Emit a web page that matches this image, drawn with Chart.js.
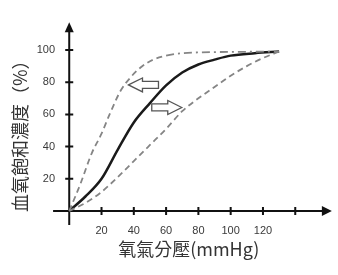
<!DOCTYPE html>
<html>
<head>
<meta charset="utf-8">
<script src="https://cdn.jsdelivr.net/npm/chart.js@4/dist/chart.umd.min.js"></script>
<style>
  html, body { margin: 0; padding: 0; background: #fff; }
  #wrap { width: 338px; height: 275px; }
</style>
</head>
<body>
<div id="wrap"><canvas id="chart"></canvas></div>
<script>
// 축 라벨
const xTitle = '氧氣分壓(mmHg)';
const yTitle = '血氧飽和濃度（%）';
const xTickLabels = [20, 40, 60, 80, 100, 120];
const xTickMarks = [20, 40, 60, 80, 100, 120, 140];
const yTickLabels = [20, 40, 60, 80, 100];

// 정상 곡선
const normalX = [0, 10, 20, 30, 40, 50, 60, 70, 80, 90, 100, 115, 130];
const normalY = [0, 9, 20, 38, 55, 67, 78, 86, 91, 94, 96.5, 98, 99];
// 왼쪽 이동 곡선
const leftX = [0, 7, 14, 20, 25, 32, 38, 44, 52, 60, 70, 80, 130];
const leftY = [0, 17, 36, 48, 60, 75, 83, 89, 94, 96.5, 98, 98.5, 99];
// 오른쪽 이동 곡선
const rightX = [0, 10, 19, 30, 40, 50, 60, 70, 80, 90, 100, 110, 120, 130];
const rightY = [0, 5, 11, 21, 31, 41, 51, 62, 70, 77, 84, 90, 95, 99];

// 화살표 (끝점, 방향)
const arrowTips = [{x: 36.7, y: 78.3, dir: -1}, {x: 69.7, y: 64.3, dir: 1}];

function toPoints(xs, ys) {
    return xs.map((x, i) => ({x: x, y: ys[i]}));
}

// 축, 눈금, 화살표 그리기
const axisPlugin = {
    id: 'axisPlugin',
    beforeDatasetsDraw(chart) {
        const ctx = chart.ctx;
        const xs = chart.scales.x;
        const ys = chart.scales.y;
        const x0 = xs.getPixelForValue(0);
        const y0 = ys.getPixelForValue(0);
        const xEnd = xs.getPixelForValue(162.7);
        const yEnd = ys.getPixelForValue(117.2);
        ctx.save();
        ctx.strokeStyle = '#111';
        ctx.fillStyle = '#111';
        ctx.lineWidth = 2;
        ctx.beginPath();
        ctx.moveTo(xs.getPixelForValue(-10), y0);
        ctx.lineTo(xEnd - 6, y0);
        ctx.moveTo(x0, ys.getPixelForValue(-8.7));
        ctx.lineTo(x0, yEnd + 6);
        ctx.stroke();
        // 축 화살촉
        ctx.beginPath();
        ctx.moveTo(xEnd, y0);
        ctx.lineTo(xEnd - 10, y0 - 5);
        ctx.lineTo(xEnd - 10, y0 + 5);
        ctx.closePath();
        ctx.fill();
        ctx.beginPath();
        ctx.moveTo(x0, yEnd);
        ctx.lineTo(x0 - 4.5, yEnd + 10);
        ctx.lineTo(x0 + 4.5, yEnd + 10);
        ctx.closePath();
        ctx.fill();
        // 눈금
        ctx.beginPath();
        xTickMarks.forEach(v => {
            const px = xs.getPixelForValue(v);
            ctx.moveTo(px, y0 - 4);
            ctx.lineTo(px, y0 + 4);
        });
        yTickLabels.forEach(v => {
            const py = ys.getPixelForValue(v);
            ctx.moveTo(x0 - 4, py);
            ctx.lineTo(x0 + 4, py);
        });
        ctx.stroke();
        ctx.restore();
    },
    afterDatasetsDraw(chart) {
        const ctx = chart.ctx;
        const xs = chart.scales.x;
        const ys = chart.scales.y;
        ctx.save();
        ctx.strokeStyle = '#555';
        ctx.fillStyle = '#fff';
        ctx.lineWidth = 1.3;
        arrowTips.forEach(a => {
            const tx = xs.getPixelForValue(a.x);
            const ty = ys.getPixelForValue(a.y);
            const d = -a.dir;
            ctx.beginPath();
            ctx.moveTo(tx, ty);
            ctx.lineTo(tx + d * 14, ty - 7);
            ctx.lineTo(tx + d * 14, ty - 3.5);
            ctx.lineTo(tx + d * 30, ty - 3.5);
            ctx.lineTo(tx + d * 30, ty + 3.5);
            ctx.lineTo(tx + d * 14, ty + 3.5);
            ctx.lineTo(tx + d * 14, ty + 7);
            ctx.closePath();
            ctx.fill();
            ctx.stroke();
        });
        ctx.restore();
    }
};

const dashed = [6, 4];
const dashDot = [8, 4, 2, 4];

new Chart(document.getElementById('chart'), {
    type: 'line',
    data: {
        datasets: [
            {
                data: toPoints(rightX, rightY),
                borderColor: '#858585',
                borderWidth: 1.8,
                borderDash: dashed,
                pointRadius: 0,
                cubicInterpolationMode: 'monotone',
                clip: false
            },
            {
                data: toPoints(leftX, leftY),
                borderColor: '#858585',
                borderWidth: 1.8,
                borderDash: dashed,
                pointRadius: 0,
                cubicInterpolationMode: 'monotone',
                clip: false,
                segment: {
                    borderDash: c => c.p0.parsed.x >= 60 ? dashDot : dashed
                }
            },
            {
                data: toPoints(normalX, normalY),
                borderColor: '#1a1a1a',
                borderWidth: 2.5,
                pointRadius: 0,
                cubicInterpolationMode: 'monotone',
                clip: false
            }
        ]
    },
    options: {
        responsive: true,
        maintainAspectRatio: false,
        animation: false,
        layout: { padding: { top: 50, right: 26.6, bottom: 0, left: 0 } },
        plugins: { legend: { display: false }, tooltip: { enabled: false } },
        scales: {
            x: {
                type: 'linear',
                min: -2,
                max: 150,
                border: { display: false },
                grid: { display: false },
                afterBuildTicks: s => { s.ticks = xTickLabels.map(v => ({value: v})); },
                afterFit: s => { s.height = 61.6; },
                ticks: {
                    padding: 3,
                    color: '#3a3a3a',
                    font: { family: 'Liberation Sans, Arial, sans-serif', size: 11 }
                },
                title: {
                    display: true,
                    text: xTitle,
                    color: '#333',
                    padding: { top: 0, bottom: 15 },
                    font: { family: '"Noto Sans CJK TC", sans-serif', size: 18 }
                }
            },
            y: {
                min: -1.5,
                max: 100,
                border: { display: false },
                grid: { display: false },
                afterBuildTicks: s => { s.ticks = yTickLabels.map(v => ({value: v})); },
                afterFit: s => { s.width = 66; },
                ticks: {
                    padding: 3,
                    color: '#3a3a3a',
                    font: { family: 'Liberation Sans, Arial, sans-serif', size: 11 }
                },
                title: {
                    display: true,
                    text: yTitle,
                    color: '#333',
                    padding: { top: 9, bottom: 0 },
                    font: { family: '"Noto Sans CJK TC", sans-serif', size: 18 }
                }
            }
        }
    },
    plugins: [axisPlugin]
});
</script>
</body>
</html>
